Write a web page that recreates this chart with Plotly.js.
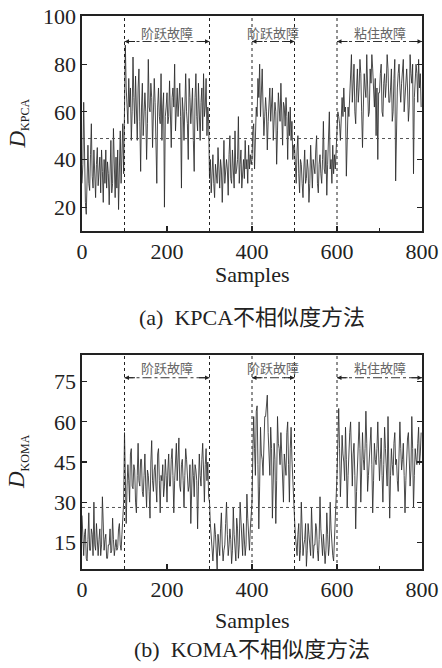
<!DOCTYPE html>
<html><head><meta charset="utf-8">
<script src="https://cdn.plot.ly/plotly-3.0.1.min.js"></script>
<style>html,body{margin:0;padding:0;background:#fff}#chart{width:442px;height:668px}</style>
</head><body><div id="chart"></div><script>
// sample spacing between stored readings
const step = 2;
// KPCA dissimilarity (every 2nd sample)
const kpca = [
30,38,64,40,22,17,35,46,30,27,42,55,33,28,44,32,24,38,45,29,36,41,26,44,35,
22,40,30,44,28,39,34,21,36,48,26,30,53,35,24,41,28,44,19,36,52,30,44,55,34,
58,88,70,62,55,74,62,70,48,60,83,66,55,75,62,48,70,78,56,35,
62,72,50,58,68,60,40,55,82,62,60,72,66,45,58,74,64,50,30,62,
70,58,55,76,48,62,68,20,58,62,
68,55,58,73,62,45,66,70,62,80,52,64,70,58,64,72,58,28,66,60,
48,62,76,60,55,40,74,66,55,62,70,48,35,66,76,58,52,72,60,48,
64,70,52,76,58,62,74,50,62,56,
32,40,26,36,42,30,24,38,34,30,45,36,28,40,36,22,33,48,30,34,
40,36,25,42,50,32,30,44,38,28,52,34,36,40,58,30,38,44,28,36,
40,32,48,36,40,30,46,36,42,38,
40,52,55,36,48,62,58,74,66,80,58,70,78,62,50,58,66,60,44,56,
62,70,56,66,70,48,58,64,60,38,52,68,62,56,72,60,46,64,62,54,
66,58,40,60,50,62,48,56,40,46,
46,38,30,44,50,34,26,40,38,30,24,36,44,30,32,40,36,22,30,46,
34,28,40,36,34,44,50,30,26,38,42,34,30,40,56,36,34,44,25,38,
46,60,36,40,30,46,34,42,36,44,
52,60,58,55,48,62,66,58,70,60,62,33,50,62,58,66,70,84,64,72,
80,60,55,70,78,64,70,82,76,60,45,62,76,70,66,84,72,58,60,78,
72,84,78,66,62,74,50,70,40,68,
68,76,80,60,58,72,76,66,72,84,78,64,64,70,78,56,60,74,82,31,
62,70,76,80,70,64,72,78,82,60,66,74,78,70,56,62,84,76,72,80,
34,66,72,80,76,64,82,70,76,62
];
// KOMA dissimilarity
const koma = [
25,14,10,18,20,9,8,16,26,12,12,20,18,10,30,14,12,22,14,10,
16,20,10,14,32,18,12,16,18,9,9,14,14,20,11,12,24,16,10,13,
16,12,13,20,22,14,12,18,28,30,
56,40,22,36,44,38,30,48,50,36,35,44,42,30,26,40,52,38,36,46,
46,34,32,40,48,36,28,42,40,34,24,45,53,38,34,42,44,36,30,48,
50,38,26,40,38,44,32,36,46,40,
30,42,48,36,36,46,50,40,26,38,44,52,38,46,54,36,34,44,46,38,
28,40,50,46,40,34,36,44,22,38,46,40,32,44,42,38,20,36,48,40,
36,46,52,42,30,44,50,38,45,32,
30,22,16,12,8,14,22,18,12,5,18,12,10,20,26,14,8,12,14,22,
30,18,10,14,20,16,7,12,28,18,12,8,24,20,9,14,30,22,14,10,
22,16,10,14,33,24,18,12,20,28,
30,48,62,50,40,64,66,44,20,36,58,48,46,40,50,62,62,68,70,56,
44,40,58,50,24,36,52,46,22,38,62,52,50,44,56,48,34,30,48,42,
40,56,60,44,30,50,58,46,36,30,
24,18,12,10,18,22,8,12,30,20,10,14,16,22,6,12,22,18,12,10,
28,16,9,14,14,22,20,12,8,16,32,20,12,10,18,14,7,12,26,18,
10,14,30,20,14,10,8,16,20,26,
40,52,65,50,32,42,55,48,45,38,58,46,28,40,50,56,60,44,36,48,
52,40,20,34,46,54,60,50,30,42,56,46,42,50,64,52,34,40,48,56,
58,44,26,38,52,46,44,50,60,48,
38,46,54,40,30,44,58,50,44,36,62,48,24,40,50,44,40,52,56,44,
46,38,34,48,60,50,42,46,52,40,26,38,48,54,56,44,36,42,62,50,
28,40,50,46,44,52,58,44,48,56
];
const samples = kpca.map((_, i) => i * step);
const faultBounds = [100, 300, 400, 500, 600];
const faultStarts = [100, 400, 600];
const faultEnds = [300, 500, 800];
const faultNames = ['阶跃故障', '阶跃故障', '粘住故障'];
const kpcaLimit = 48.8;
const komaLimit = 28;
const kpcaTicks = [20, 40, 60, 80, 100];
const komaTicks = [15, 30, 45, 60, 75];
const xTicks = [0, 200, 400, 600, 800];

const SERIF = '"Liberation Serif", "Times New Roman", serif';
const MIXED = '"Liberation Serif", "Noto Sans CJK SC", serif';
const CJK = '"Noto Sans CJK SC", sans-serif';
const W = 442, H = 668;
const px = v => v / W;
const py = v => 1 - v / H;

const panels = [
  {x:'x', y:'y', data:kpca, lim:kpcaLimit, arrowY:89.5, textY:93.3, range:[10,100.2], ticks:kpcaTicks,
   top:16, bot:231, title:'<i>D</i><sub><span style="font-size:12px">KPCA</span></sub>',
   samplesY:274, capY:317, cap:'(a)  KPCA不相似度方法'},
  {x:'x2', y:'y2', data:koma, lim:komaLimit, arrowY:76.5, textY:80.2, range:[5,85], ticks:komaTicks,
   top:355, bot:569, title:'<i>D</i><sub><span style="font-size:12px">KOMA</span></sub>',
   samplesY:620, capY:649, cap:'(b)  KOMA不相似度方法'}
];

const traces = [], shapes = [], annotations = [];
const layout = {
  width: W, height: H, margin: {l:0, r:0, t:0, b:0},
  paper_bgcolor: '#fff', plot_bgcolor: '#fff', showlegend: false,
  font: {family: SERIF, color: '#222', size: 22}
};

panels.forEach((p, k) => {
  traces.push({x: samples, y: p.data, xaxis: p.x, yaxis: p.y, type: 'scatter', mode: 'lines',
    line: {color: '#2b2b2b', width: 0.85}, hoverinfo: 'skip'});
  const axCommon = {showgrid:false, zeroline:false, showline:true, linecolor:'#222', linewidth:1.6,
    ticks:'inside', ticklen:5, tickwidth:1.2, tickcolor:'#222',
    tickfont:{family:SERIF, size:22, color:'#222'}, fixedrange:true};
  const xk = k === 0 ? 'xaxis' : 'xaxis2';
  const yk = k === 0 ? 'yaxis' : 'yaxis2';
  layout[xk] = Object.assign({}, axCommon, {
    domain:[px(82), px(422)], range:[0, 800], tickvals:xTicks, anchor:p.y, mirror:true,
    minor:{tickvals:[100,300,500,700], ticks:'inside', ticklen:3, tickcolor:'#222'}
  });
  layout[yk] = Object.assign({}, axCommon, {
    domain:[py(p.bot), py(p.top)], range:p.range, tickvals:p.ticks, anchor:p.x, mirror:'ticks'
  });
  faultBounds.forEach(b => shapes.push({type:'line', xref:p.x, yref:p.y + ' domain', x0:b, x1:b, y0:0, y1:1,
    line:{color:'#222', width:1, dash:'dot'}}));
  shapes.push({type:'line', xref:p.x + ' domain', yref:p.y, x0:0, x1:1, y0:p.lim, y1:p.lim,
    line:{color:'#555', width:1, dash:'dot'}});
  faultStarts.forEach((s, i) => {
    const e = faultEnds[i];
    shapes.push({type:'line', xref:p.x, yref:p.y, x0:s, x1:e, y0:p.arrowY, y1:p.arrowY,
      line:{color:'#333', width:1, dash:'dashdot'}});
    [[s, 12], [e, -12]].forEach(([xv, off]) => annotations.push({xref:p.x, yref:p.y, x:xv, y:p.arrowY,
      ax:off, ay:0, text:'', showarrow:true, arrowhead:2, arrowsize:0.9, arrowwidth:1, arrowcolor:'#222', standoff:0}));
    annotations.push({xref:p.x, yref:p.y, x:(s + e) / 2, y:p.textY, text:faultNames[i], showarrow:false,
      xanchor:'center', yanchor:'middle',
      font:{family:CJK, size:13, color:'#666'}});
  });
  annotations.push({xref:'paper', yref:'paper', x:px(18), y:py((p.top + p.bot) / 2), text:p.title,
    xanchor:'center', yanchor:'middle',
    textangle:-90, showarrow:false, font:{family:SERIF, size:23, color:'#222'}});
  annotations.push({xref:'paper', yref:'paper', x:px(252), y:py(p.samplesY), text:'Samples',
    xanchor:'center', yanchor:'middle',
    showarrow:false, font:{family:SERIF, size:22, color:'#222'}});
  annotations.push({xref:'paper', yref:'paper', x:px(252), y:py(p.capY), text:p.cap,
    xanchor:'center', yanchor:'middle',
    showarrow:false, font:{family:MIXED, size:22, color:'#222'}});
});
layout.shapes = shapes;
layout.annotations = annotations;
Plotly.newPlot('chart', traces, layout, {displayModeBar:false, staticPlot:true});
</script></body></html>
